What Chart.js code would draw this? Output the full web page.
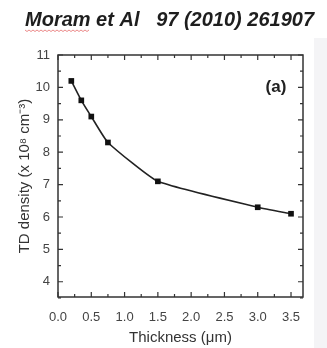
<!DOCTYPE html>
<html>
<head>
<meta charset="utf-8">
<script src="https://cdn.jsdelivr.net/npm/chart.js@4.4.1/dist/chart.umd.min.js"></script>
<style>
  html, body { margin: 0; padding: 0; background: #fff; }
  #wrap { position: relative; width: 327px; height: 348px; }
  #strip { position: absolute; left: 314px; top: 38px; width: 13px; height: 310px; background: #f4f4f6; }
</style>
</head>
<body>
<div id="wrap">
  <div id="strip"></div>
  <canvas id="tdChart" width="327" height="348"></canvas>
</div>
<script>
// values
const thickness = [0.2, 0.35, 0.5, 0.75, 1.5, 3.0, 3.5];
const tdDensity = [10.2, 9.6, 9.1, 8.3, 7.1, 6.3, 6.1];
const xTicks = [0, 0.5, 1.0, 1.5, 2.0, 2.5, 3.0, 3.5];
const yTicks = [4, 5, 6, 7, 8, 9, 10, 11];
const headerText = 'Moram et Al   97 (2010) 261907';
const panelLabel = '(a)';

const sans = '"Liberation Sans", Arial, sans-serif';

// inward ticks on all four sides + frame + header text
const framePlugin = {
  id: 'frame',
  afterDraw(chart) {
    const { ctx, chartArea: a, scales: { x, y } } = chart;
    ctx.save();
    ctx.strokeStyle = '#333';
    ctx.lineWidth = 1.5;
    ctx.strokeRect(a.left, a.top, a.right - a.left, a.bottom - a.top);

    ctx.lineWidth = 1.2;
    ctx.beginPath();
    for (let v = 0; v <= x.max; v += 0.25) {
      const px = x.getPixelForValue(v);
      const len = (Math.round(v * 4) % 2 === 0) ? 5 : 3;
      ctx.moveTo(px, a.bottom); ctx.lineTo(px, a.bottom - len);
      ctx.moveTo(px, a.top); ctx.lineTo(px, a.top + len);
    }
    for (let v = 3.5; v <= y.max + 0.01; v += 0.5) {
      const py = y.getPixelForValue(v);
      const len = (Math.round(v * 2) % 2 === 0) ? 5 : 3;
      ctx.moveTo(a.left, py); ctx.lineTo(a.left + len, py);
      ctx.moveTo(a.right, py); ctx.lineTo(a.right - len, py);
    }
    ctx.stroke();

    // panel label
    ctx.fillStyle = '#222';
    ctx.font = 'bold 17px ' + sans;
    ctx.textAlign = 'center';
    ctx.textBaseline = 'middle';
    ctx.fillText(panelLabel, 276, 87);

    // header
    ctx.font = 'italic bold 20px ' + sans;
    ctx.textAlign = 'left';
    ctx.textBaseline = 'alphabetic';
    ctx.fillStyle = '#1e1e1e';
    ctx.fillText(headerText, 25, 26, 297);

    // spell-check squiggle under the first word
    const w = Math.min(ctx.measureText('Moram').width, 68);
    ctx.strokeStyle = 'rgba(220,60,60,0.6)';
    ctx.lineWidth = 1;
    ctx.beginPath();
    for (let i = 0; i <= w; i += 2) {
      const yy = 30 + ((i / 2) % 2 === 0 ? 0 : 1.5);
      if (i === 0) ctx.moveTo(25 + i, yy); else ctx.lineTo(25 + i, yy);
    }
    ctx.stroke();
    ctx.restore();
  }
};

const tickFont = { family: sans, size: 13 };

new Chart(document.getElementById('tdChart'), {
  type: 'line',
  data: {
    datasets: [{
      data: thickness.map((t, i) => ({ x: t, y: tdDensity[i] })),
      borderColor: '#222',
      borderWidth: 1.6,
      backgroundColor: '#111',
      pointStyle: 'rect',
      pointRadius: 4,
      pointBorderWidth: 0,
      tension: 0.15,
      fill: false
    }]
  },
  options: {
    responsive: false,
    animation: false,
    layout: { padding: { top: 55, right: 24, left: 0, bottom: 0 } },
    plugins: { legend: { display: false }, tooltip: { enabled: false } },
    scales: {
      x: {
        type: 'linear',
        min: 0,
        max: 3.68,
        afterBuildTicks: s => { s.ticks = xTicks.map(v => ({ value: v })); },
        afterFit: s => { s.height = 51; },
        grid: { display: false, drawTicks: false },
        border: { display: false },
        ticks: {
          padding: 13,
          color: '#444',
          font: tickFont,
          maxRotation: 0,
          callback: v => Number(v).toFixed(1)
        },
        title: {
          display: true,
          text: 'Thickness (μm)',
          color: '#333',
          font: { family: sans, size: 15 },
          padding: { top: 0, bottom: 1 }
        }
      },
      y: {
        type: 'linear',
        min: 3.53,
        max: 11,
        afterBuildTicks: s => { s.ticks = yTicks.map(v => ({ value: v })); },
        afterFit: s => { s.width = 58; },
        grid: { display: false, drawTicks: false },
        border: { display: false },
        ticks: { padding: 8, color: '#444', font: tickFont },
        title: {
          display: true,
          text: 'TD density (x 10⁸ cm⁻³)',
          color: '#333',
          font: { family: sans, size: 15 },
          padding: { top: 16, bottom: 0 }
        }
      }
    }
  },
  plugins: [framePlugin]
});
</script>
</body>
</html>
